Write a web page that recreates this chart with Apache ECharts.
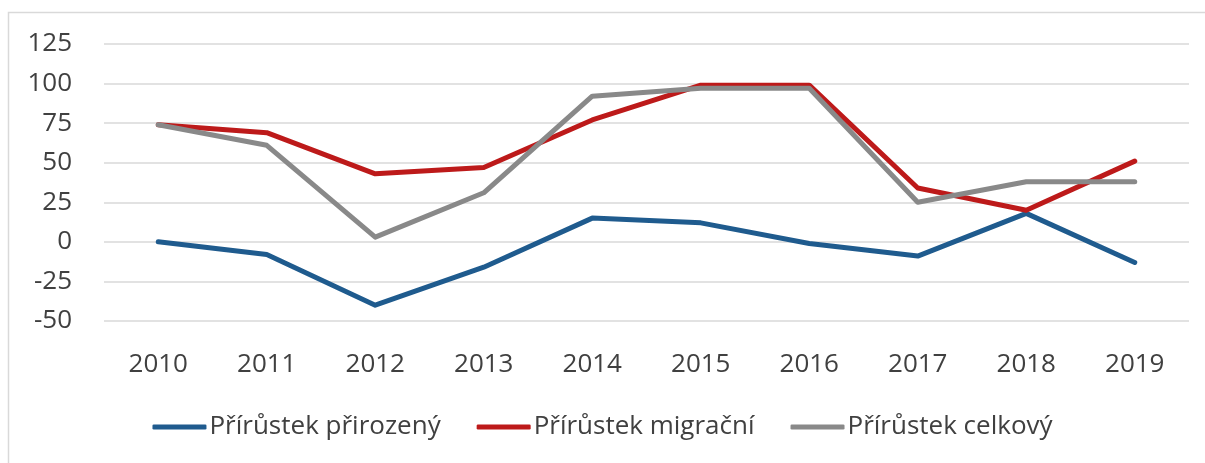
<!DOCTYPE html>
<html>
<head>
<meta charset="utf-8">
<script src="https://cdn.jsdelivr.net/npm/echarts@6/dist/echarts.min.js"></script>
<style>
	html, body { margin: 0; padding: 0; background: #fff; }
	#chart { width: 1205px; height: 463px; }
</style>
</head>
<body>
<div id="chart"></div>
<script>
var years = ["2010", "2011", "2012", "2013", "2014", "2015", "2016", "2017", "2018", "2019"];
var prirozeny = [0, -8, -40, -16, 15, 12, -1, -9, 18, -13];
var migracni = [74, 69, 43, 47, 77, 99, 99, 34, 20, 51];
var celkovy = [74, 61, 3, 31, 92, 97, 97, 25, 38, 38];
var yTicks = [-50, -25, 0, 25, 50, 75, 100, 125];

var fontName = "Open Sans";
var textColor = "#404040";

function lineSeries(name, data, color){
	return {
		name: name,
		type: "line",
		data: data,
		symbol: "none",
		smooth: false,
		lineStyle: { color: color, width: 5, cap: "round", join: "round" },
		itemStyle: { color: color }
	};
}

var chart = echarts.init(document.getElementById("chart"));
chart.setOption({
	animation: false,
	backgroundColor: "#fff",
	textStyle: { fontFamily: fontName },
	graphic: [{
		type: "rect",
		shape: { x: 8.5, y: 12.5, width: 1220, height: 480 },
		style: { fill: "none", stroke: "#d9d9d9", lineWidth: 1.5 },
		silent: true
	}],
	grid: { left: 104, right: 16, top: 44, bottom: 142 },
	legend: {
		bottom: 18,
		left: "center",
		itemWidth: 54,
		itemHeight: 5,
		itemGap: 36,
		icon: "roundRect",
		textStyle: { fontFamily: fontName, fontSize: 26, color: textColor, padding: [0, 0, 0, -2] },
		data: ["Přírůstek přirozený", "Přírůstek migrační", "Přírůstek celkový"]
	},
	xAxis: {
		type: "category",
		data: years,
		boundaryGap: true,
		axisLine: { show: false },
		axisTick: { show: false },
		axisLabel: { fontFamily: fontName, fontSize: 26, color: textColor, margin: 31 }
	},
	yAxis: {
		type: "value",
		min: yTicks[0],
		max: yTicks[yTicks.length - 1],
		interval: 25,
		axisLine: { show: false },
		axisTick: { show: false },
		splitLine: { lineStyle: { color: "#d9d9d9", width: 1.5 } },
		axisLabel: { fontFamily: fontName, fontSize: 26, color: textColor, margin: 32 }
	},
	series: [
		lineSeries("Přírůstek přirozený", prirozeny, "#1f5b8e"),
		lineSeries("Přírůstek migrační", migracni, "#bd1a1a"),
		lineSeries("Přírůstek celkový", celkovy, "#898989")
	]
});
</script>
</body>
</html>
